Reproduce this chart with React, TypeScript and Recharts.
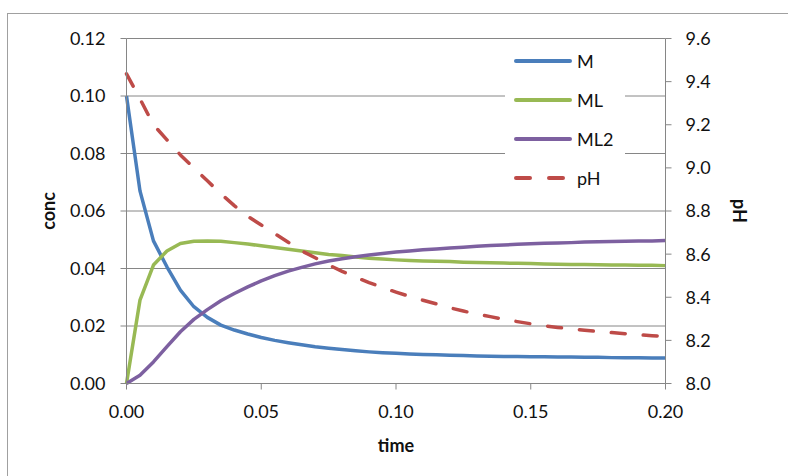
import React from 'react';
import { LineChart, Line, XAxis, YAxis, CartesianGrid, Legend } from 'recharts';

const times = [
  0, 0.005, 0.01, 0.015, 0.02, 0.025, 0.03, 0.035, 0.04, 0.045,
  0.05, 0.055, 0.06, 0.065, 0.07, 0.075, 0.08, 0.085, 0.09, 0.095,
  0.1, 0.105, 0.11, 0.115, 0.12, 0.125, 0.13, 0.135, 0.14, 0.145,
  0.15, 0.155, 0.16, 0.165, 0.17, 0.175, 0.18, 0.185, 0.19, 0.195, 0.2,
];

const mValues = [
  0.1, 0.067, 0.0496, 0.0406, 0.0325, 0.0267, 0.023, 0.0203, 0.0186, 0.0172,
  0.016, 0.015, 0.0142, 0.0135, 0.0128, 0.0123, 0.0118, 0.0114, 0.011, 0.0107,
  0.0105, 0.0103, 0.0101, 0.01, 0.0098, 0.0097, 0.0096, 0.0095, 0.0094, 0.0094,
  0.0093, 0.0093, 0.0092, 0.0092, 0.0091, 0.0091, 0.009, 0.009, 0.009, 0.0089, 0.0089,
];

const mlValues = [
  0, 0.029, 0.0412, 0.0461, 0.0487, 0.0495, 0.0496, 0.0495, 0.049, 0.0485,
  0.0479, 0.0473, 0.0467, 0.0461, 0.0455, 0.0449, 0.0445, 0.044, 0.0436, 0.0433,
  0.043, 0.0428, 0.0426, 0.0425, 0.0424, 0.0422, 0.0421, 0.042, 0.0419, 0.0418,
  0.0417, 0.0416, 0.0415, 0.0414, 0.0414, 0.0413, 0.0412, 0.0412, 0.0411, 0.0411, 0.041,
];

const ml2Values = [
  0, 0.0029, 0.0075, 0.0128, 0.018, 0.0223, 0.0257, 0.0288, 0.0313, 0.0336,
  0.0357, 0.0375, 0.0391, 0.0404, 0.0416, 0.0426, 0.0434, 0.0441, 0.0447, 0.0452,
  0.0457, 0.0461, 0.0465, 0.0468, 0.0471, 0.0474, 0.0477, 0.048, 0.0482, 0.0484,
  0.0486, 0.0488, 0.0489, 0.049, 0.0492, 0.0493, 0.0494, 0.0495, 0.0496, 0.0496, 0.0497,
];

const phValues = [
  9.436, 9.32, 9.2, 9.13, 9.06, 9.0, 8.94, 8.88, 8.825, 8.775,
  8.735, 8.695, 8.655, 8.615, 8.583, 8.55, 8.52, 8.493, 8.468, 8.445,
  8.424, 8.404, 8.386, 8.369, 8.351, 8.336, 8.322, 8.31, 8.298, 8.287,
  8.277, 8.268, 8.26, 8.253, 8.247, 8.241, 8.236, 8.231, 8.226, 8.222, 8.218,
];

const xTicks = [0, 0.05, 0.1, 0.15, 0.2];
const concTicks = [0, 0.02, 0.04, 0.06, 0.08, 0.1, 0.12];
const phTicks = [8.0, 8.2, 8.4, 8.6, 8.8, 9.0, 9.2, 9.4, 9.6];

const seriesNames = ['M', 'ML', 'ML2', 'pH'];
const seriesColors = ['#4A7EBB', '#98B954', '#7D60A0', '#BE4B48'];

const data = times.map((t, i) => ({
  time: t,
  M: mValues[i],
  ML: mlValues[i],
  ML2: ml2Values[i],
  pH: phValues[i],
}));

const FONT = 'Lato, "Open Sans", "DejaVu Sans", sans-serif';
const AXIS_COLOR = '#868686';

const tickStyle = { fontSize: 18, fill: '#111', fontFamily: FONT };

const renderLegend = () => (
  <div
    style={{
      background: '#fff',
      width: 120,
      padding: '0',
      fontFamily: FONT,
      fontSize: 18,
      color: '#111',
    }}
  >
    {seriesNames.map((name, i) => (
      <div
        key={name}
        style={{ display: 'flex', alignItems: 'center', height: 39 }}
      >
        <svg width={68} height={10} style={{ display: 'block' }}>
          <line
            x1={11}
            y1={5}
            x2={name === 'pH' ? 61 : 65}
            y2={5}
            stroke={seriesColors[i]}
            strokeWidth={4}
            strokeLinecap="round"
            strokeDasharray={name === 'pH' ? '14 19' : undefined}
          />
        </svg>
        <span style={{ marginLeft: 4, lineHeight: '20px' }}>{name}</span>
      </div>
    ))}
  </div>
);

export default function App() {
  return (
    <div
      style={{
        position: 'absolute',
        left: 0,
        top: 0,
        width: 788,
        height: 476,
        background: '#fff',
        overflow: 'hidden',
      }}
    >
      <div
        style={{
          position: 'absolute',
          left: 7,
          top: 13,
          width: 820,
          height: 520,
          border: '1px solid #a0a0a0',
        }}
      />
      <div style={{ position: 'absolute', left: 0, top: 0 }}>
        <LineChart
          width={788}
          height={476}
          data={data}
          margin={{ top: 38.5, right: 42.5, left: 0, bottom: 52.5 }}
        >
          <CartesianGrid
            vertical={false}
            horizontal={true}
            stroke={AXIS_COLOR}
            strokeWidth={1}
            yAxisId="conc"
          />
          <XAxis
            dataKey="time"
            type="number"
            domain={[0, 0.2]}
            ticks={xTicks}
            tickFormatter={(v: number) => v.toFixed(2)}
            height={40}
            tickSize={6}
            tickMargin={16}
            stroke={AXIS_COLOR}
            tick={tickStyle}
            tickLine={{ stroke: AXIS_COLOR }}
            axisLine={{ stroke: AXIS_COLOR }}
            interval={0}
            label={{
              content: (props: any) => {
                const vb = props.viewBox || {};
                return (
                  <text
                    x={vb.x + vb.width / 2}
                    y={vb.y + 68}
                    textAnchor="middle"
                    fontFamily={FONT}
                    fontWeight="bold"
                    fontSize={18}
                    fill="#111"
                  >
                    time
                  </text>
                );
              },
            }}
          />
          <YAxis
            yAxisId="conc"
            orientation="left"
            width={126.5}
            domain={[0, 0.12]}
            ticks={concTicks}
            tickFormatter={(v: number) => v.toFixed(2)}
            tickSize={6}
            tickMargin={15}
            stroke={AXIS_COLOR}
            tick={tickStyle}
            tickLine={{ stroke: AXIS_COLOR }}
            axisLine={{ stroke: AXIS_COLOR }}
            interval={0}
            label={{
              content: (props: any) => {
                const vb = props.viewBox || {};
                const cx = vb.x + 55;
                const cy = vb.y + vb.height / 2;
                return (
                  <text
                    x={cx}
                    y={cy}
                    transform={`rotate(-90 ${cx} ${cy})`}
                    textAnchor="middle"
                    fontFamily={FONT}
                    fontWeight="bold"
                    fontSize={18}
                    fill="#111"
                  >
                    conc
                  </text>
                );
              },
            }}
          />
          <YAxis
            yAxisId="ph"
            orientation="right"
            width={80}
            domain={[8, 9.6]}
            ticks={phTicks}
            tickFormatter={(v: number) => v.toFixed(1)}
            tickSize={6}
            tickMargin={14}
            stroke={AXIS_COLOR}
            tick={tickStyle}
            tickLine={{ stroke: AXIS_COLOR }}
            axisLine={{ stroke: AXIS_COLOR }}
            interval={0}
            label={{
              content: (props: any) => {
                const vb = props.viewBox || {};
                const cx = vb.x + 67.5;
                const cy = vb.y + vb.height / 2;
                return (
                  <text
                    x={cx}
                    y={cy}
                    transform={`rotate(90 ${cx} ${cy})`}
                    textAnchor="middle"
                    fontFamily={FONT}
                    fontWeight="bold"
                    fontSize={18}
                    fill="#111"
                  >
                    pH
                  </text>
                );
              },
            }}
          />
          <Legend
            layout="vertical"
            align="center"
            verticalAlign="middle"
            content={renderLegend}
            wrapperStyle={{ left: 505, top: 41, width: 122, height: 156 }}
          />
          <Line
            yAxisId="conc"
            type="linear"
            dataKey="M"
            stroke={seriesColors[0]}
            strokeWidth={3.5}
            dot={false}
            strokeLinejoin="round"
            isAnimationActive={false}
          />
          <Line
            yAxisId="conc"
            type="linear"
            dataKey="ML"
            stroke={seriesColors[1]}
            strokeWidth={3.5}
            dot={false}
            strokeLinejoin="round"
            isAnimationActive={false}
          />
          <Line
            yAxisId="conc"
            type="linear"
            dataKey="ML2"
            stroke={seriesColors[2]}
            strokeWidth={3.5}
            dot={false}
            strokeLinejoin="round"
            isAnimationActive={false}
          />
          <Line
            yAxisId="ph"
            type="linear"
            dataKey="pH"
            stroke={seriesColors[3]}
            strokeWidth={3.5}
            strokeDasharray="14 18"
            strokeLinecap="round"
            dot={false}
            strokeLinejoin="round"
            isAnimationActive={false}
          />
        </LineChart>
      </div>
    </div>
  );
}
